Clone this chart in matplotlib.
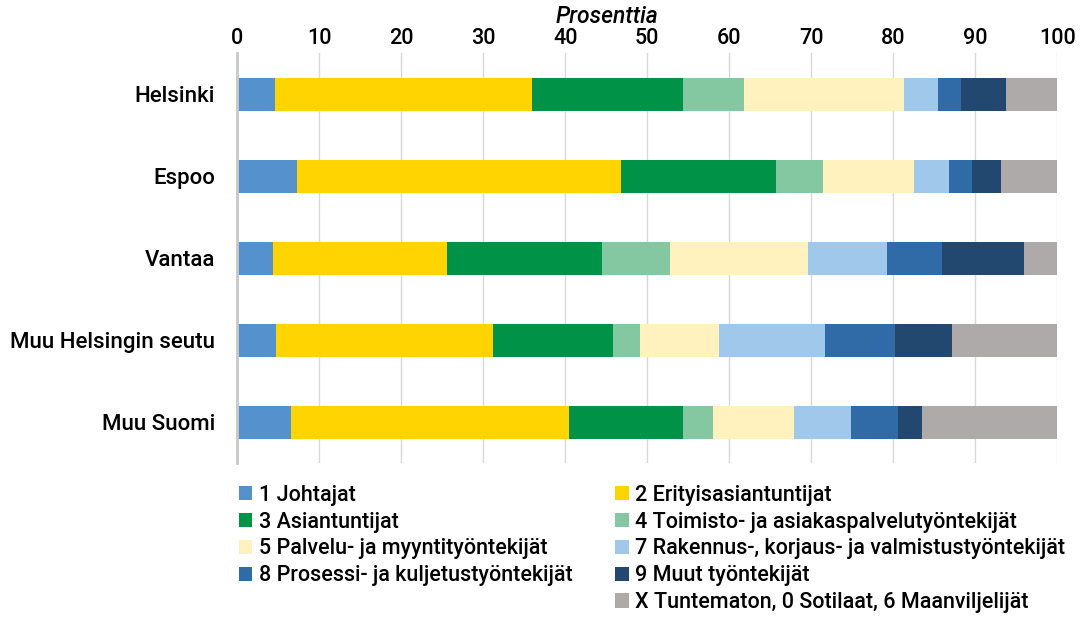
import matplotlib.pyplot as plt
from matplotlib.patches import Patch
import numpy as np

plt.rcParams['font.family'] = ['Roboto', 'DejaVu Sans']
plt.rcParams['font.weight'] = 500

regions = ["Helsinki", "Espoo", "Vantaa", "Muu Helsingin seutu", "Muu Suomi"]

groups = [
    "1 Johtajat",
    "2 Erityisasiantuntijat",
    "3 Asiantuntijat",
    "4 Toimisto- ja asiakaspalvelutyöntekijät",
    "5 Palvelu- ja myyntityöntekijät",
    "7 Rakennus-, korjaus- ja valmistustyöntekijät",
    "8 Prosessi- ja kuljetustyöntekijät",
    "9 Muut työntekijät",
    "X Tuntematon, 0 Sotilaat, 6 Maanviljelijät",
]

# percentages per region, in the order of groups
helsinki = [4.6, 31.3, 18.5, 7.4, 19.5, 4.2, 2.8, 5.5, 6.2]
espoo = [7.3, 39.5, 18.9, 5.7, 11.1, 4.3, 2.8, 3.5, 6.9]
vantaa = [4.4, 21.2, 18.9, 8.3, 16.8, 9.6, 6.7, 10.0, 4.1]
muu_hki_seutu = [4.7, 26.5, 14.6, 3.3, 9.7, 12.9, 8.5, 7.0, 12.8]
muu_suomi = [6.5, 34.0, 13.9, 3.6, 9.9, 6.9, 5.8, 2.9, 16.5]

colors = ["#5591CD", "#FFD400", "#009246", "#83C8A0", "#FFF2BF",
          "#A0C8EA", "#306BA8", "#224870", "#ADAAA9"]

data = np.array([helsinki, espoo, vantaa, muu_hki_seutu, muu_suomi])

fig = plt.figure(figsize=(10.9, 6.2), dpi=100)
ax = fig.add_axes([0.2177, 0.2537, 0.7523, 0.6608])

y = np.arange(len(regions))
left = np.zeros(len(regions))
for i in range(len(groups)):
    ax.barh(y, data[:, i], left=left, height=0.4, color=colors[i],
            linewidth=0, label=groups[i])
    left += data[:, i]

ax.set_xlim(0, 100)
ax.set_ylim(4.494, -0.506)
ax.set_yticks(y)
ax.set_yticklabels(regions, fontsize=16)
ax.set_xticks(range(0, 101, 10))
ax.xaxis.tick_top()
ax.tick_params(axis='x', length=0, labelsize=15.5, pad=3)
ax.tick_params(axis='y', length=0, pad=16)
ax.grid(axis='x', color="#d9d9d9", linewidth=1)
ax.set_axisbelow(True)
for s in ["top", "right", "bottom"]:
    ax.spines[s].set_visible(False)
ax.spines["left"].set_color("#c8c8c8")
ax.spines["left"].set_linewidth(2)

fig.text(0.557, 0.974, "Prosenttia", style="italic", fontsize=16.5,
         ha="center", va="center")

handles = [Patch(facecolor=c, edgecolor="none") for c in colors]
left_idx = [0, 2, 4, 6]
right_idx = [1, 3, 5, 7, 8]
common = dict(loc="upper left", frameon=False, fontsize=15.5,
              handlelength=0.64, handleheight=0.64, handletextpad=0.3,
              labelspacing=0.27, borderaxespad=0, borderpad=0)
fig.legend([handles[i] for i in left_idx], [groups[i] for i in left_idx],
           bbox_to_anchor=(0.219, 0.218), **common)
fig.legend([handles[i] for i in right_idx], [groups[i] for i in right_idx],
           bbox_to_anchor=(0.564, 0.218), **common)

fig.savefig("out.png", dpi=100)
